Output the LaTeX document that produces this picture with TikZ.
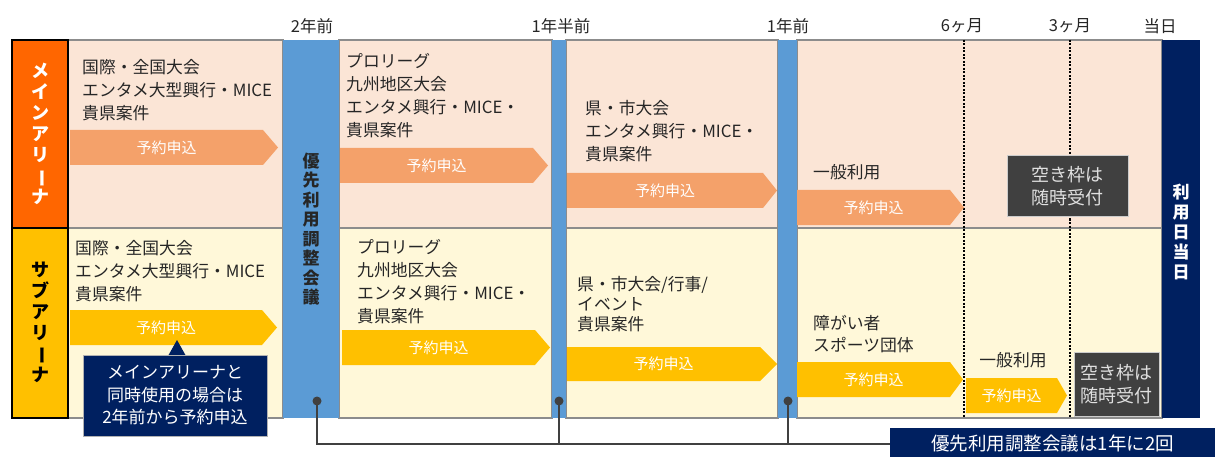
\documentclass[tikz,border=0pt]{standalone}
\usepackage{fontspec}
\setmainfont{Noto Sans CJK JP}
\definecolor{mainbg}{HTML}{FBE5D6}
\definecolor{subbg}{HTML}{FFF8D9}
\definecolor{orangeL}{HTML}{FF6600}
\definecolor{yellowL}{HTML}{FFC000}
\definecolor{blueB}{HTML}{5B9BD5}
\definecolor{navy}{HTML}{002060}
\definecolor{arrM}{HTML}{F4A16A}
\definecolor{arrS}{HTML}{FFC000}
\definecolor{darkbox}{HTML}{404040}
\definecolor{panelline}{HTML}{8C8C8C}
\definecolor{linkc}{HTML}{404040}
\newcommand{\chouon}{\rotatebox[origin=c]{-90}{ー}}
\newcommand{\sig}[7]{%
  \fill[#6] (#1,#2) -- (#3,#2) -- (#4,{(#2+#5)/2}) -- (#3,#5) -- (#1,#5) -- cycle;
  \node[atext] (#7) at ({(#1+#3)/2},{(#2+#5)/2}) {予約申込};}
\begin{document}
\begin{tikzpicture}[x=1pt,y=-1pt,
  panelM/.style={fill=mainbg, draw=panelline, line width=1.2pt},
  panelS/.style={fill=subbg, draw=panelline, line width=1.2pt},
  body/.style={anchor=west, align=left, inner sep=0pt, font=\fontsize{16.8}{23}\selectfont, text=black!85},
  atext/.style={text=white, font=\fontsize{15}{16}\selectfont, inner sep=0pt},
  hdr/.style={font=\fontsize{16.5}{18}\selectfont, inner sep=0pt, text=black!85},
  darkb/.style={fill=darkbox, draw=black!20, line width=1pt, text=white!88!black, align=center,
    font=\fontsize{18}{23}\selectfont, inner sep=0pt},
  vlabel/.style={align=center, inner sep=0pt, font=\fontsize{18}{21}\selectfont\bfseries},
  dotted line/.style={line width=1.4pt, dash pattern=on 2pt off 1.5pt, black},
  link/.style={draw=linkc, line width=2pt},
  dotn/.style={circle, fill=linkc, inner sep=0pt, minimum size=9pt}]
\useasboundingbox (0,0) rectangle (1215,457);

% header labels
\node[hdr] (h1) at (312,26) {2年前};
\node[hdr] (h2) at (561,26) {1年半前};
\node[hdr] (h3) at (788,26) {1年前};
\node[hdr] (h4) at (962,26) {6ヶ月};
\node[hdr] (h5) at (1070,26) {3ヶ月};
\node[hdr] (h6) at (1160,26) {当日};

% panels
\draw[panelM] (68,40) rectangle (283,228);
\draw[panelM] (339,40) rectangle (552,228);
\draw[panelM] (566,40) rectangle (778,228);
\draw[panelM] (797,40) rectangle (1162,228);
\draw[panelS] (68,228) rectangle (283,418);
\draw[panelS] (339,228) rectangle (552,418);
\draw[panelS] (566,228) rectangle (778,418);
\draw[panelS] (797,228) rectangle (1162,418);

% row labels
\draw[fill=orangeL, draw=black, line width=1.2pt] (12,40) rectangle (68,228);
\draw[fill=yellowL, draw=black, line width=1.2pt] (12,228) rectangle (68,418);
\node[vlabel, text=white] (lm) at (40,134) {メ\\イ\\ン\\ア\\リ\\\chouon\\ナ};
\node[vlabel, text=black] (ls) at (40,322) {サ\\ブ\\ア\\リ\\\chouon\\ナ};

% blue bars
\fill[blueB] (283,40) rectangle (339,418);
\fill[blueB] (552,40) rectangle (566,418);
\fill[blueB] (778,40) rectangle (797,418);
\node[vlabel, font=\fontsize{17}{19.5}\selectfont\bfseries, text=black!85] (conf) at (311,229)
  {優\\先\\利\\用\\調\\整\\会\\議};

% navy column
\fill[navy] (1162,40) rectangle (1200,418);
\node[vlabel, font=\fontsize{17}{20}\selectfont\bfseries, text=white] (day) at (1181,232)
  {利\\用\\日\\当\\日};

% dotted lines
\draw[dotted line] (964,40) -- (964,418);
\draw[dotted line] (1070,40) -- (1070,418);

% main arena texts
\node[body] (m1) at (82,90) {国際・全国大会\\エンタメ大型興行・MICE\\貴県案件};
\node[body] (m2) at (346,96) {プロリーグ\\九州地区大会\\エンタメ興行・MICE・\\貴県案件};
\node[body] (m3) at (585,131) {県・市大会\\エンタメ興行・MICE・\\貴県案件};
\node[body] (m4) at (813,172) {一般利用};
\sig{70}{130}{263}{278}{165}{arrM}{am1}
\sig{340}{148}{533}{548}{183}{arrM}{am2}
\sig{567}{173}{763}{777}{208}{arrM}{am3}
\sig{797}{190}{950}{964}{225}{arrM}{am4}
\node[darkb, minimum width=121pt, minimum height=61pt] (fm) at (1067.5,186.5) {空き枠は\\随時受付};

% sub arena texts
\node[body] (s1) at (75,271) {国際・全国大会\\エンタメ大型興行・MICE\\貴県案件};
\node[body] (s2) at (357,282) {プロリーグ\\九州地区大会\\エンタメ興行・MICE・\\貴県案件};
\node[body, font=\fontsize{16.8}{20}\selectfont] (s3) at (577,304) {県・市大会/行事/\\イベント\\貴県案件};
\node[body, font=\fontsize{16.8}{22}\selectfont] (s4) at (813,334) {障がい者\\スポーツ団体};
\node[body, anchor=center] (s5) at (1013,360) {一般利用};
\sig{70}{310}{262}{277}{345}{arrS}{as1}
\sig{342}{330}{535}{550}{365}{arrS}{as2}
\sig{567}{347}{760}{777}{381}{arrS}{as3}
\sig{797}{362}{950}{963}{397}{arrS}{as4}
\sig{966}{378}{1057}{1067}{413}{arrS}{as5}
\node[darkb, minimum width=85pt, minimum height=64pt] (fs) at (1116.5,384) {空き枠は\\随時受付};

% callout
\fill[navy] (168,356) -- (177,340) -- (186,356) -- cycle;
\node[fill=navy, draw=black!30, line width=0.8pt, text=white, align=center, inner sep=0pt,
  minimum width=184pt, minimum height=81pt, font=\fontsize{17}{22.5}\selectfont] (call) at (175,395.5)
  {メインアリーナと\\同時使用の場合は\\2年前から予約申込};

% bottom box and connectors
\node[fill=navy, text=white, inner sep=0pt, minimum width=325pt, minimum height=32pt,
  font=\fontsize{18.5}{20}\selectfont] (bbox) at (1052.5,444) {優先利用調整会議は1年に2回};
\node[dotn] (d1) at (317,401) {};
\node[dotn] (d2) at (559,401) {};
\node[dotn] (d3) at (788,401) {};
\draw[link] (d1.center) |- (bbox.west);
\draw[link] (d2.center) -- (d2.center |- bbox.west);
\draw[link] (d3.center) -- (d3.center |- bbox.west);
\end{tikzpicture}
\end{document}
